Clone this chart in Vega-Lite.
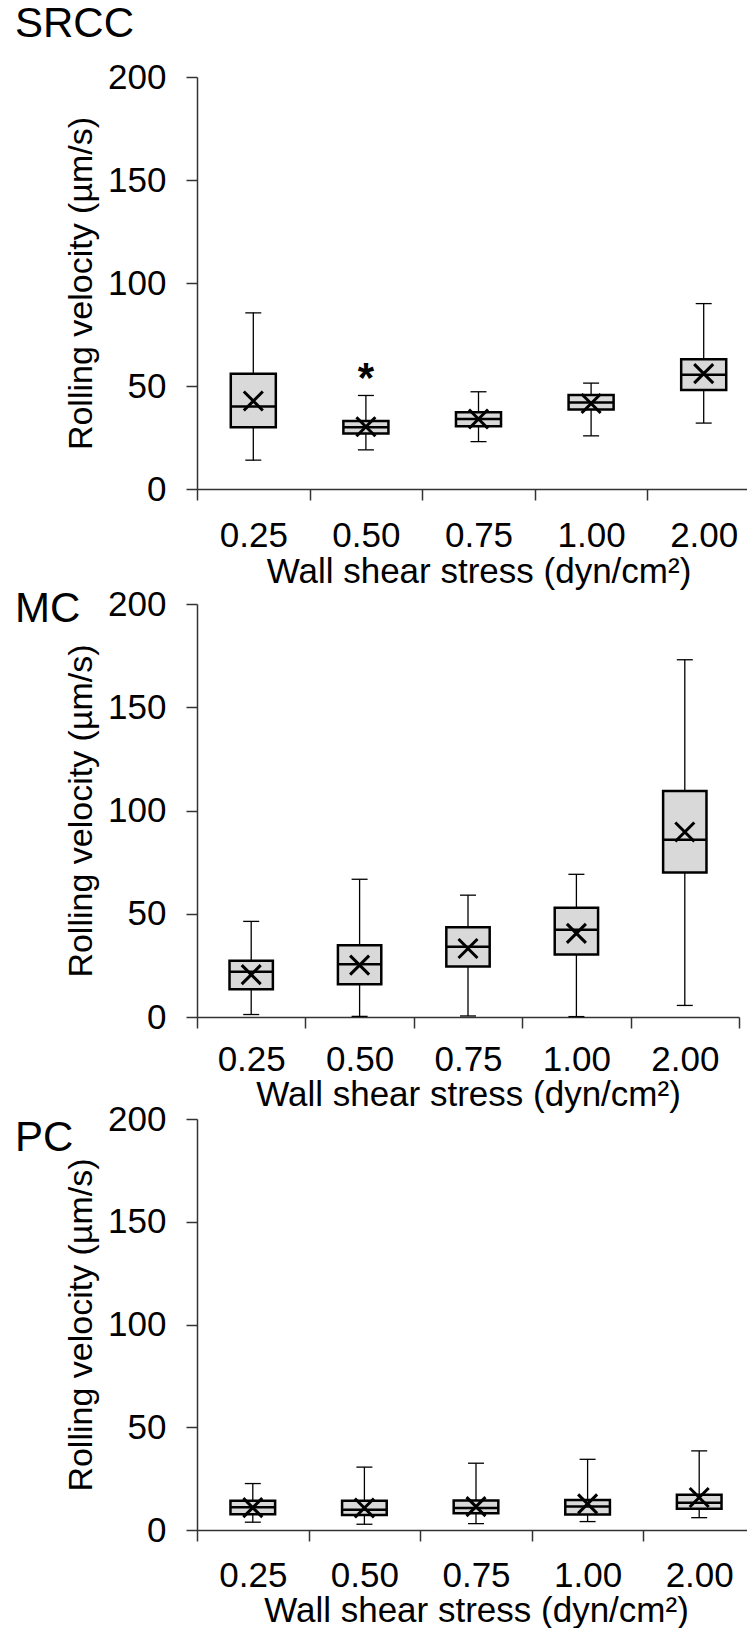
{
  "$schema": "https://vega.github.io/schema/vega-lite/v6.json",
  "padding": {"left": 15, "top": 3, "right": 0, "bottom": 0},
  "background": "white",
  "config": {
    "view": {"stroke": null},
    "font": "Liberation Sans",
    "axis": {
      "grid": false,
      "labelFont": "Liberation Sans",
      "titleFont": "Liberation Sans",
      "labelColor": "black",
      "titleColor": "black",
      "titleFontWeight": "normal",
      "domainColor": "#333333",
      "tickColor": "#333333",
      "domainWidth": 1.5,
      "tickWidth": 1.5,
      "tickSize": 11
    },
    "axisX": {"labelFontSize": 35, "labelAngle": 0, "labelPadding": 18, "titleFontSize": 35, "titlePadding": 1, "tickBand": "extent"},
    "axisY": {"labelFontSize": 35, "labelPadding": 20, "titleFontSize": 34, "titlePadding": 9},
    "title": {"font": "Liberation Sans", "fontSize": 42, "fontWeight": "normal", "color": "black", "anchor": "start", "frame": "group", "baseline": "alphabetic", "dx": -182}
  },
  "datasets": {
    "box": [
      {"cell": "SRCC", "wss": "0.25", "lo": 14, "q1": 30, "med": 40, "q3": 56, "hi": 85.5, "mean": 42.7},
      {"cell": "SRCC", "wss": "0.50", "lo": 19, "q1": 27, "med": 30, "q3": 33, "hi": 45.4, "mean": 30.2, "sig": "*"},
      {"cell": "SRCC", "wss": "0.75", "lo": 23, "q1": 30.5, "med": 34, "q3": 37.2, "hi": 47.2, "mean": 34},
      {"cell": "SRCC", "wss": "1.00", "lo": 25.8, "q1": 38.6, "med": 42, "q3": 45.6, "hi": 51.4, "mean": 41.5},
      {"cell": "SRCC", "wss": "2.00", "lo": 32, "q1": 48, "med": 55.5, "q3": 63, "hi": 90, "mean": 56},
      {"cell": "MC", "wss": "0.25", "lo": 1.2, "q1": 13.4, "med": 21.9, "q3": 27.3, "hi": 46.3, "mean": 20.5},
      {"cell": "MC", "wss": "0.50", "lo": 0.3, "q1": 15.8, "med": 25.5, "q3": 34.8, "hi": 66.7, "mean": 25.1},
      {"cell": "MC", "wss": "0.75", "lo": 0.5, "q1": 24.5, "med": 34, "q3": 43.5, "hi": 59, "mean": 33.2},
      {"cell": "MC", "wss": "1.00", "lo": 0.2, "q1": 30.3, "med": 42.2, "q3": 52.9, "hi": 69.1, "mean": 40.5},
      {"cell": "MC", "wss": "2.00", "lo": 5.6, "q1": 70, "med": 85.8, "q3": 109.4, "hi": 173, "mean": 89.6},
      {"cell": "PC", "wss": "0.25", "lo": 3.8, "q1": 7.7, "med": 11.1, "q3": 14.2, "hi": 22.6, "mean": 10.9},
      {"cell": "PC", "wss": "0.50", "lo": 2.8, "q1": 7.3, "med": 9.8, "q3": 14.2, "hi": 30.6, "mean": 10.7},
      {"cell": "PC", "wss": "0.75", "lo": 3.1, "q1": 8.1, "med": 10.7, "q3": 14.4, "hi": 32.5, "mean": 11.4},
      {"cell": "PC", "wss": "1.00", "lo": 4.1, "q1": 7.6, "med": 11.4, "q3": 14.6, "hi": 34.4, "mean": 12.7},
      {"cell": "PC", "wss": "2.00", "lo": 6, "q1": 10.3, "med": 13.2, "q3": 17.2, "hi": 38.5, "mean": 15.8}
    ]
  },
  "spacing": -10,
  "vconcat": [
    {
      "spacing": -2,
      "vconcat": [
        {
          "title": {"text": "SRCC", "offset": 14},
          "width": 563,
          "height": 412,
          "data": {"name": "box"},
          "transform": [{"filter": "datum.cell === 'SRCC'"}],
          "encoding": {
            "x": {"field": "wss", "type": "ordinal", "sort": ["0.25", "0.50", "0.75", "1.00", "2.00"], "scale": {"paddingInner": 0, "paddingOuter": 0}, "title": "Wall shear stress (dyn/cm²)"}
          },
          "layer": [
            {"mark": {"type": "rule", "color": "black", "strokeWidth": 1.3}, "encoding": {"y": {"field": "lo", "type": "quantitative", "scale": {"domain": [0, 200]}, "axis": {"values": [0, 50, 100, 150, 200]}, "title": "Rolling velocity (µm/s)"}, "y2": {"field": "hi"}}},
            {"mark": {"type": "tick", "color": "black", "size": 16, "thickness": 1.3, "opacity": 1}, "encoding": {"y": {"field": "lo", "type": "quantitative", "title": "Rolling velocity (µm/s)"}}},
            {"mark": {"type": "tick", "color": "black", "size": 16, "thickness": 1.3, "opacity": 1}, "encoding": {"y": {"field": "hi", "type": "quantitative", "title": "Rolling velocity (µm/s)"}}},
            {"mark": {"type": "bar", "width": {"band": 0.4}, "fill": "#d9d9d9", "stroke": "black", "strokeWidth": 2.5}, "encoding": {"y": {"field": "q1", "type": "quantitative", "title": "Rolling velocity (µm/s)"}, "y2": {"field": "q3"}}},
            {"mark": {"type": "tick", "color": "black", "size": 45, "thickness": 2.5, "opacity": 1}, "encoding": {"y": {"field": "med", "type": "quantitative", "title": "Rolling velocity (µm/s)"}}},
            {"mark": {"type": "point", "shape": "M-1,-1L1,1M-1,1L1,-1", "size": 361, "filled": false, "stroke": "black", "strokeWidth": 3, "opacity": 1}, "encoding": {"y": {"field": "mean", "type": "quantitative", "title": "Rolling velocity (µm/s)"}}},
            {"transform": [{"filter": "isValid(datum.sig)"}], "mark": {"type": "text", "fontSize": 42, "fontWeight": "bold", "baseline": "middle", "dy": -16, "color": "black"}, "encoding": {"y": {"field": "hi", "type": "quantitative", "title": "Rolling velocity (µm/s)"}, "text": {"field": "sig"}}}
          ]
        },
        {
          "title": {"text": "MC", "offset": -44},
          "width": 542,
          "height": 413,
          "data": {"name": "box"},
          "transform": [{"filter": "datum.cell === 'MC'"}],
          "encoding": {
            "x": {"field": "wss", "type": "ordinal", "sort": ["0.25", "0.50", "0.75", "1.00", "2.00"], "scale": {"paddingInner": 0, "paddingOuter": 0}, "title": "Wall shear stress (dyn/cm²)", "axis": {"labelPadding": 14, "titlePadding": 0}}
          },
          "layer": [
            {"mark": {"type": "rule", "color": "black", "strokeWidth": 1.3}, "encoding": {"y": {"field": "lo", "type": "quantitative", "scale": {"domain": [0, 200]}, "axis": {"values": [0, 50, 100, 150, 200]}, "title": "Rolling velocity (µm/s)"}, "y2": {"field": "hi"}}},
            {"mark": {"type": "tick", "color": "black", "size": 16, "thickness": 1.3, "opacity": 1}, "encoding": {"y": {"field": "lo", "type": "quantitative", "title": "Rolling velocity (µm/s)"}}},
            {"mark": {"type": "tick", "color": "black", "size": 16, "thickness": 1.3, "opacity": 1}, "encoding": {"y": {"field": "hi", "type": "quantitative", "title": "Rolling velocity (µm/s)"}}},
            {"mark": {"type": "bar", "width": {"band": 0.4}, "fill": "#d9d9d9", "stroke": "black", "strokeWidth": 2.5}, "encoding": {"y": {"field": "q1", "type": "quantitative", "title": "Rolling velocity (µm/s)"}, "y2": {"field": "q3"}}},
            {"mark": {"type": "tick", "color": "black", "size": 44, "thickness": 2.5, "opacity": 1}, "encoding": {"y": {"field": "med", "type": "quantitative", "title": "Rolling velocity (µm/s)"}}},
            {"mark": {"type": "point", "shape": "M-1,-1L1,1M-1,1L1,-1", "size": 361, "filled": false, "stroke": "black", "strokeWidth": 3, "opacity": 1}, "encoding": {"y": {"field": "mean", "type": "quantitative", "title": "Rolling velocity (µm/s)"}}}
          ]
        }
      ]
    },
    {
      "title": {"text": "PC", "offset": -58},
      "width": 558,
      "height": 411,
      "data": {"name": "box"},
      "transform": [{"filter": "datum.cell === 'PC'"}],
      "encoding": {
        "x": {"field": "wss", "type": "ordinal", "sort": ["0.25", "0.50", "0.75", "1.00", "2.00"], "scale": {"paddingInner": 0, "paddingOuter": 0}, "title": "Wall shear stress (dyn/cm²)", "axis": {"labelPadding": 17, "titlePadding": 0}}
      },
      "layer": [
        {"mark": {"type": "rule", "color": "black", "strokeWidth": 1.3}, "encoding": {"y": {"field": "lo", "type": "quantitative", "scale": {"domain": [0, 200]}, "axis": {"values": [0, 50, 100, 150, 200]}, "title": "Rolling velocity (µm/s)"}, "y2": {"field": "hi"}}},
        {"mark": {"type": "tick", "color": "black", "size": 16, "thickness": 1.3, "opacity": 1}, "encoding": {"y": {"field": "lo", "type": "quantitative", "title": "Rolling velocity (µm/s)"}}},
        {"mark": {"type": "tick", "color": "black", "size": 16, "thickness": 1.3, "opacity": 1}, "encoding": {"y": {"field": "hi", "type": "quantitative", "title": "Rolling velocity (µm/s)"}}},
        {"mark": {"type": "bar", "width": {"band": 0.4}, "fill": "#d9d9d9", "stroke": "black", "strokeWidth": 2.5}, "encoding": {"y": {"field": "q1", "type": "quantitative", "title": "Rolling velocity (µm/s)"}, "y2": {"field": "q3"}}},
        {"mark": {"type": "tick", "color": "black", "size": 45, "thickness": 2.5, "opacity": 1}, "encoding": {"y": {"field": "med", "type": "quantitative", "title": "Rolling velocity (µm/s)"}}},
        {"mark": {"type": "point", "shape": "M-1,-1L1,1M-1,1L1,-1", "size": 361, "filled": false, "stroke": "black", "strokeWidth": 3, "opacity": 1}, "encoding": {"y": {"field": "mean", "type": "quantitative", "title": "Rolling velocity (µm/s)"}}}
      ]
    }
  ]
}
